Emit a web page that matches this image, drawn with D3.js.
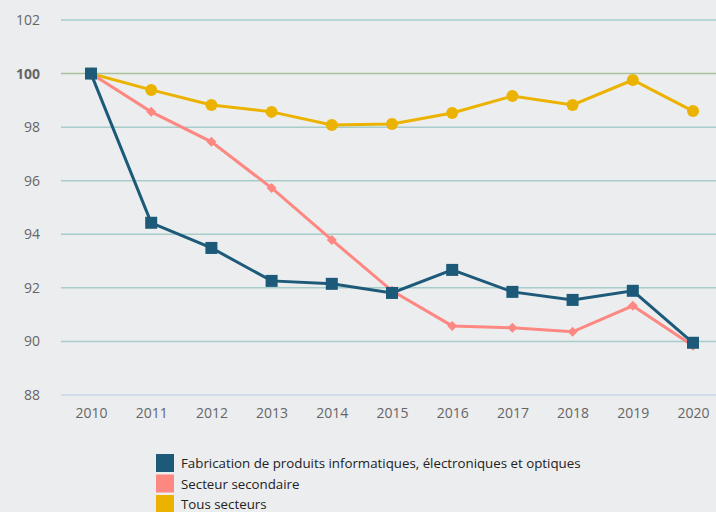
<!DOCTYPE html>
<html>
<head>
<meta charset="utf-8">
<script src="https://cdn.jsdelivr.net/npm/d3@7"></script>
<style>
  body { margin: 0; background: #ecedef; }
  svg { display: block; font-family: "Open Sans", "Noto Sans", sans-serif; }
</style>
</head>
<body>
<div id="chart"></div>
<script>
// data
var years = [2010, 2011, 2012, 2013, 2014, 2015, 2016, 2017, 2018, 2019, 2020];
var fabrication = [100, 94.43, 93.49, 92.26, 92.15, 91.81, 92.67, 91.85, 91.55, 91.89, 89.95];
var secondaire = [100, 98.57, 97.45, 95.73, 93.79, 91.89, 90.58, 90.51, 90.36, 91.33, 89.84];
var tous = [100, 99.39, 98.83, 98.57, 98.08, 98.12, 98.53, 99.16, 98.83, 99.76, 98.60];
var yTicks = [88, 90, 92, 94, 96, 98, 100, 102];
var seriesNames = ["Fabrication de produits informatiques, électroniques et optiques", "Secteur secondaire", "Tous secteurs"];

var W = 716, H = 512;

var svg = d3.select("#chart")
  .append("svg")
    .attr("width", W)
    .attr("height", H);

var x = d3.scalePoint()
  .domain(years)
  .range([91, 693]);

var y = d3.scaleLinear()
  .domain([88, 102])
  .range([395, 20]);

// grid lines
svg.append("g")
  .selectAll("line")
  .data(yTicks)
  .enter()
  .append("line")
    .attr("x1", 61)
    .attr("x2", W)
    .attr("y1", function(d) { return y(d); })
    .attr("y2", function(d) { return y(d); })
    .attr("stroke", function(d) {
      if (d == 100) return "#a9c29c";
      if (d == 88) return "#c9d5ea";
      return "#a7cdca";
    })
    .attr("stroke-width", 1.5);

// Y axis labels
var yAxis = svg.append("g")
  .attr("transform", "translate(40,0)")
  .call(d3.axisLeft(y).tickValues(yTicks).tickSize(0).tickPadding(0));
yAxis.select(".domain").remove();
yAxis.selectAll("text")
  .attr("fill", "#666")
  .style("font-size", "14px")
  .style("font-family", "'Open Sans', sans-serif")
  .style("font-weight", function(d) { return d == 100 ? "bold" : "normal"; });

// X axis labels
var xAxis = svg.append("g")
  .attr("transform", "translate(0,408)")
  .call(d3.axisBottom(x).tickSize(0).tickPadding(0));
xAxis.select(".domain").remove();
xAxis.selectAll("text")
  .attr("fill", "#666")
  .style("font-size", "14px")
  .style("font-family", "'Open Sans', sans-serif");

var line = d3.line()
  .x(function(d, i) { return x(years[i]); })
  .y(function(d) { return y(d); });

function drawLine(values, color) {
  svg.append("path")
    .datum(values)
    .attr("fill", "none")
    .attr("stroke", color)
    .attr("stroke-width", 3)
    .attr("d", line);
}

// Tous secteurs
drawLine(tous, "#ebb300");
svg.selectAll("circle.tous")
  .data(tous)
  .enter()
  .append("circle")
    .attr("cx", function(d, i) { return x(years[i]); })
    .attr("cy", function(d) { return y(d); })
    .attr("r", 6)
    .attr("fill", "#ebb300");

// Secteur secondaire
drawLine(secondaire, "#fd8882");
svg.selectAll("path.sec")
  .data(secondaire)
  .enter()
  .append("path")
    .attr("class", "sec")
    .attr("d", d3.symbol().type(d3.symbolSquare).size(50))
    .attr("transform", function(d, i) { return "translate(" + x(years[i]) + "," + y(d) + ")rotate(45)"; })
    .attr("fill", "#fd8882");

// Fabrication
drawLine(fabrication, "#1d5a79");
svg.selectAll("rect.fab")
  .data(fabrication)
  .enter()
  .append("rect")
    .attr("x", function(d, i) { return x(years[i]) - 6; })
    .attr("y", function(d) { return y(d) - 6; })
    .attr("width", 12)
    .attr("height", 12)
    .attr("fill", "#1d5a79");

// legend
var colors = ["#1d5a79", "#fd8882", "#ebb300"];
var legend = svg.append("g").attr("transform", "translate(156,454)");
legend.selectAll("rect")
  .data(seriesNames)
  .enter()
  .append("rect")
    .attr("x", 0)
    .attr("y", function(d, i) { return i * 20.5; })
    .attr("width", 18)
    .attr("height", 18)
    .attr("fill", function(d, i) { return colors[i]; });
legend.selectAll("text")
  .data(seriesNames)
  .enter()
  .append("text")
    .attr("x", 25)
    .attr("y", function(d, i) { return i * 20.5 + 14; })
    .attr("fill", "#222")
    .style("font-size", "13.3px")
    .text(function(d) { return d; });
</script>
</body>
</html>
